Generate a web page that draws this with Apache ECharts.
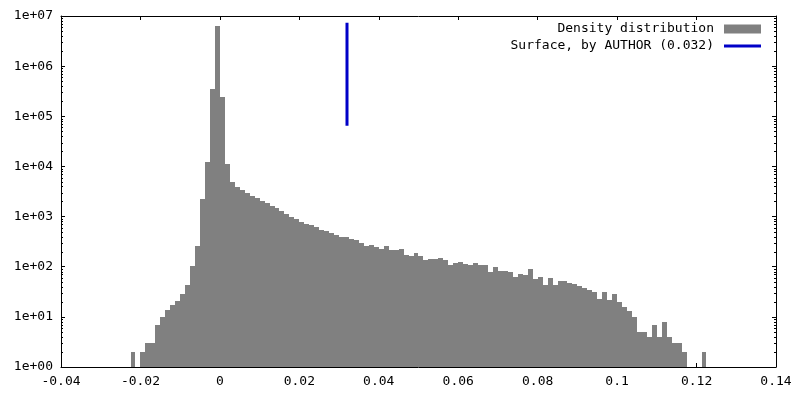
<!DOCTYPE html>
<html>
<head>
<meta charset="utf-8">
<script src="https://cdn.jsdelivr.net/npm/echarts@6/dist/echarts.min.js"></script>
<style>html,body{margin:0;padding:0;background:#fff}#c{width:800px;height:400px}</style>
</head>
<body>
<div id="c"></div>
<script>
// ---- data ----
var binWidth = 0.00125;
var binLeft = [-0.0225,-0.02,-0.01875,-0.0175,-0.01625,-0.015,-0.01375,-0.0125,-0.01125,-0.01,-0.00875,-0.0075,-0.00625,-0.005,-0.00375,-0.0025,-0.00125,
 0,0.00125,0.0025,0.00375,0.005,0.00625,0.0075,0.00875,0.01,0.01125,0.0125,0.01375,0.015,0.01625,0.0175,0.01875,
 0.02,0.02125,0.0225,0.02375,0.025,0.02625,0.0275,0.02875,0.03,0.03125,0.0325,0.03375,0.035,0.03625,0.0375,0.03875,
 0.04,0.04125,0.0425,0.04375,0.045,0.04625,0.0475,0.04875,0.05,0.05125,0.0525,0.05375,0.055,0.05625,0.0575,0.05875,
 0.06,0.06125,0.0625,0.06375,0.065,0.06625,0.0675,0.06875,0.07,0.07125,0.0725,0.07375,0.075,0.07625,0.0775,0.07875,
 0.08,0.08125,0.0825,0.08375,0.085,0.08625,0.0875,0.08875,0.09,0.09125,0.0925,0.09375,0.095,0.09625,0.0975,0.09875,
 0.1,0.10125,0.1025,0.10375,0.105,0.10625,0.1075,0.10875,0.11,0.11125,0.1125,0.11375,0.115,0.11625,0.12125];
var counts = [2,2,3,3,7,10,14,17,21,29,43,104,260,2240,12300,354000,6400000,
 245000,11300,4940,3920,3410,2970,2590,2360,2060,1880,1660,1490,1300,1130,986,900,
 784,715,683,623,542,518,472,431,393,393,359,343,298,263,272,248,
 227,260,216,216,227,172,164,188,164,137,143,143,150,137,109,119,
 125,114,109,119,109,109,79,99,82,82,79,63,72,69,90,57,
 63,43,60,43,52,52,47,45,41,38,34,31,23,31,22,29,
 20,16,13,10,5,5,4,7,4,8,4,3,3,2,2];
var surfaceX = [0.032, 0.032];
var surfaceY = [65000, 7300000];
var xTickLabels = ['-0.04','-0.02','0','0.02','0.04','0.06','0.08','0.1','0.12','0.14'];
var yTickLabels = ['1e+00','1e+01','1e+02','1e+03','1e+04','1e+05','1e+06','1e+07'];
var seriesNames = ['Density distribution', 'Surface, by AUTHOR (0.032)'];

// ---- build ----
var xMin = -0.04, xMax = 0.14, xInt = 0.02;
var histData = binLeft.map(function (b, i) { return [b, counts[i]]; });
var surfData = surfaceX.map(function (x, i) { return [x, surfaceY[i]]; });
var minorVals = [];
for (var e = 0; e < 7; e++) for (var m = 2; m <= 9; m++) minorVals.push(m * Math.pow(10, e));

var font = 'DejaVu Sans Mono';
var chart = echarts.init(document.getElementById('c'), null, { renderer: 'canvas' });
chart.setOption({
  animation: false,
  backgroundColor: '#ffffff',
  grid: { left: 61, right: 24, top: 16, bottom: 33, containLabel: false },
  legend: {
    orient: 'vertical', right: 39, top: 22, align: 'right', padding: 0,
    itemWidth: 37, itemHeight: 9, itemGap: 3,
    selectedMode: false,
    textStyle: { fontFamily: font, fontSize: 13, color: '#000', padding: [0, 5, 0, 0], lineHeight: 14 },
    data: [
      { name: seriesNames[0], icon: 'rect' },
      { name: seriesNames[1], icon: 'path://M0,0 L38,0 L38,3 L0,3 Z', itemStyle: { color: '#0000c8' } }
    ]
  },
  xAxis: [{
    type: 'value', min: xMin, max: xMax, interval: xInt,
    axisLine: { onZero: false, lineStyle: { color: '#000', width: 1 } },
    axisTick: { inside: true, length: 4, lineStyle: { color: '#000' } },
    axisLabel: { fontFamily: font, fontSize: 13, color: '#000', margin: 8,
      formatter: function (v) { return xTickLabels[Math.round((v - xMin) / xInt)]; } },
    splitLine: { show: false }
  }, {
    type: 'value', position: 'top', min: xMin, max: xMax, interval: xInt,
    axisLine: { onZero: false, lineStyle: { color: '#000', width: 1 } },
    axisTick: { inside: true, length: 4, lineStyle: { color: '#000' } },
    axisLabel: { show: false }, splitLine: { show: false }
  }],
  yAxis: [{
    type: 'log', logBase: 10, min: 1, max: 1e7,
    axisLine: { show: true, onZero: false, lineStyle: { color: '#000', width: 1 } },
    axisTick: { show: true, inside: true, length: 4, lineStyle: { color: '#000' } },
    axisLabel: { fontFamily: font, fontSize: 13, color: '#000', margin: 8,
      formatter: function (v) { return yTickLabels[Math.round(Math.log10(v))]; } },
    splitLine: { show: false }
  }, {
    type: 'log', logBase: 10, min: 1, max: 1e7, position: 'right',
    axisLine: { show: true, onZero: false, lineStyle: { color: '#000', width: 1 } },
    axisTick: { show: true, inside: true, length: 4, lineStyle: { color: '#000' } },
    axisLabel: { show: false }, splitLine: { show: false }
  }],
  series: [{
    name: seriesNames[0],
    type: 'custom',
    xAxisIndex: 0, yAxisIndex: 0,
    itemStyle: { color: '#808080' },
    encode: { x: 0, y: 1 },
    data: histData,
    renderItem: function (params, api) {
      var x0 = api.value(0), y = api.value(1);
      var p0 = api.coord([x0, y]);
      var p1 = api.coord([x0 + binWidth, 1]);
      var l = Math.round(p0[0]), r = Math.round(p1[0]);
      var t = Math.round(p0[1]), b = Math.round(p1[1]);
      return { type: 'rect', shape: { x: l, y: t, width: r - l, height: b - t },
        style: { fill: '#808080' } };
    }
  }, {
    name: seriesNames[1],
    type: 'line',
    xAxisIndex: 0, yAxisIndex: 0,
    data: surfData,
    symbol: 'none', showSymbol: false,
    lineStyle: { color: '#0000c8', width: 3 },
    itemStyle: { color: '#0000c8' },
    z: 5
  }, {
    name: 'minorTicks',
    type: 'custom',
    xAxisIndex: 0, yAxisIndex: 0,
    silent: true,
    data: minorVals.map(function (v) { return [v]; }),
    renderItem: function (params, api) {
      var v = api.value(0);
      var pl = api.coord([xMin, v]);
      var pr = api.coord([xMax, v]);
      var yy = Math.round(pl[1]) + 0.5;
      return { type: 'group', children: [
        { type: 'line', shape: { x1: pl[0], y1: yy, x2: pl[0] + 2, y2: yy }, style: { stroke: '#000', lineWidth: 1 } },
        { type: 'line', shape: { x1: pr[0] - 2, y1: yy, x2: pr[0], y2: yy }, style: { stroke: '#000', lineWidth: 1 } }
      ] };
    },
    encode: { y: 0 }
  }]
});
</script>
</body>
</html>
